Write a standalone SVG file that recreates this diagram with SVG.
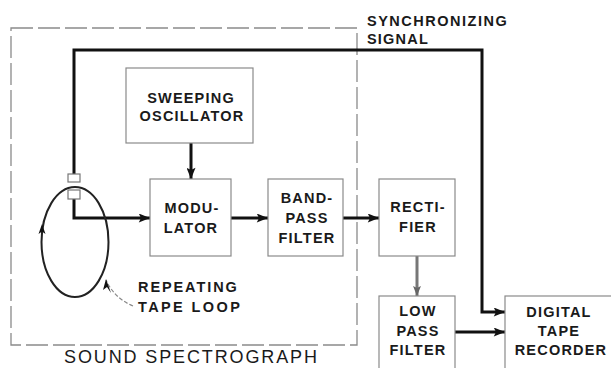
<svg xmlns="http://www.w3.org/2000/svg" width="611" height="368" viewBox="0 0 611 368">
<defs>
<style>
.box{fill:#fff;stroke:#8a8a8a;stroke-width:1.2}
.lbl{font-family:"Liberation Sans",Arial,sans-serif;font-weight:bold;font-size:14.5px;fill:#1a1a1a;text-anchor:middle;letter-spacing:1.2px}
.lblL{font-family:"Liberation Sans",Arial,sans-serif;font-weight:bold;font-size:14.5px;fill:#1a1a1a;letter-spacing:1.2px}
.wire{fill:none;stroke:#111;stroke-width:3}
.gwire{fill:none;stroke:#777;stroke-width:3}
.dash{fill:none;stroke:#8a8a8a;stroke-width:1.3;stroke-dasharray:22 5}
</style>
<marker id="ah" viewBox="0 0 10 8" refX="10" refY="4" markerWidth="4" markerHeight="3" orient="auto" markerUnits="strokeWidth">
<path d="M0,0 L10,4 L0,8 L2,4 Z" fill="#111"/>
</marker>
<marker id="ahg" viewBox="0 0 10 8" refX="10" refY="4" markerWidth="3.3" markerHeight="3" orient="auto" markerUnits="strokeWidth">
<path d="M0,0 L10,4 L0,8 L2,4 Z" fill="#666"/>
</marker>
</defs>
<rect width="611" height="368" fill="#fff"/>

<g id="sound-spectrograph">
<rect class="dash" x="11" y="28" width="346" height="317"/>
<text x="64" y="363" font-family="'Liberation Sans',Arial,sans-serif" font-size="18" fill="#1a1a1a" textLength="253" lengthAdjust="spacing">SOUND  SPECTROGRAPH</text>
</g>

<g id="connectors">
<polyline class="wire" points="74,174 74,50 482,50 482,312 505,312" marker-end="url(#ah)"/>
<line class="wire" x1="191" y1="143" x2="191" y2="179" marker-end="url(#ah)"/>
<polyline class="wire" points="74,199 74,218 150,218" marker-end="url(#ah)"/>
<line class="wire" x1="231" y1="218" x2="268" y2="218" marker-end="url(#ah)"/>
<line class="wire" x1="343" y1="218" x2="379" y2="218" marker-end="url(#ah)"/>
<line class="gwire" x1="417" y1="256" x2="417" y2="296" marker-end="url(#ahg)"/>
<line class="wire" x1="455" y1="332" x2="505" y2="332" marker-end="url(#ah)"/>
<path d="M133,306 Q114,298 106,280" fill="none" stroke="#888" stroke-width="1.2" stroke-dasharray="4 2"/>
<path d="M106,279 L103,290 L107,287 L111,293 Z" fill="#111"/>
</g>

<g id="tape-loop">
<ellipse cx="75" cy="242" rx="33.5" ry="55" fill="none" stroke="#222" stroke-width="2"/>
<path d="M42,224 L38.5,234 L42,231.5 L45.5,234 Z" fill="#111"/>
<rect x="68" y="174" width="12" height="8" fill="#fff" stroke="#777" stroke-width="1.2"/>
<rect x="68" y="190" width="12" height="9" fill="#fff" stroke="#777" stroke-width="1.2"/>
<text class="lblL" x="138" y="292" textLength="100" lengthAdjust="spacing">REPEATING</text>
<text class="lblL" x="138" y="312" textLength="103" lengthAdjust="spacing">TAPE  LOOP</text>
</g>

<g id="sweeping-oscillator">
<rect class="box" x="126" y="68" width="127" height="75"/>
<text class="lbl" x="191" y="103">SWEEPING</text>
<text class="lbl" x="192" y="121">OSCILLATOR</text>
</g>

<g id="modulator">
<rect class="box" x="150" y="179" width="81" height="77"/>
<text class="lbl" x="192" y="213">MODU-</text>
<text class="lbl" x="191" y="233">LATOR</text>
</g>

<g id="band-pass-filter">
<rect class="box" x="268" y="179" width="75" height="77"/>
<text class="lbl" x="307" y="203">BAND-</text>
<text class="lbl" x="307" y="223">PASS</text>
<text class="lbl" x="307" y="243">FILTER</text>
</g>

<g id="rectifier">
<rect class="box" x="379" y="179" width="76" height="77"/>
<text class="lbl" x="418" y="212">RECTI-</text>
<text class="lbl" x="418" y="232">FIER</text>
</g>

<g id="low-pass-filter">
<rect class="box" x="379" y="296" width="76" height="76"/>
<text class="lbl" x="418" y="316">LOW</text>
<text class="lbl" x="418" y="336">PASS</text>
<text class="lbl" x="418" y="355">FILTER</text>
</g>

<g id="digital-tape-recorder">
<rect class="box" x="505" y="296" width="110" height="76"/>
<text class="lbl" x="559" y="317">DIGITAL</text>
<text class="lbl" x="559" y="336">TAPE</text>
<text class="lbl" x="561" y="355">RECORDER</text>
</g>

<g id="synchronizing-signal">
<text class="lblL" x="367" y="26" textLength="141" lengthAdjust="spacing">SYNCHRONIZING</text>
<text class="lblL" x="367" y="44">SIGNAL</text>
</g>
</svg>
